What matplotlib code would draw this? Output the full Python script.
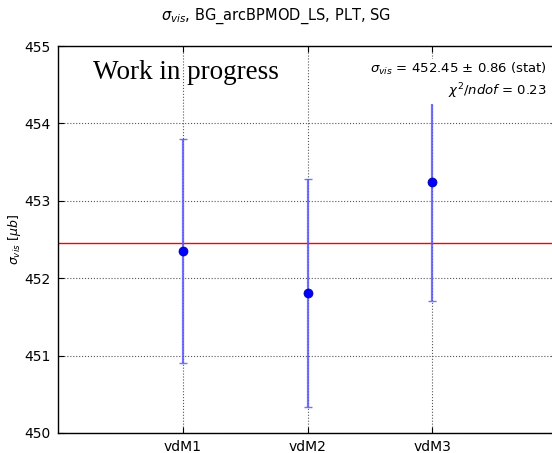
import matplotlib
matplotlib.use("Agg")
import matplotlib.pyplot as plt

# Per-scan visible cross sections and their statistical errors
scans = ["vdM1", "vdM2", "vdM3"]
sigma_vis = [452.35, 451.81, 453.24]
sigma_err = [1.45, 1.47, 1.53]

# Weighted average and fit quality
avg_value = 452.45
avg_err = 0.86
chi2_ndof = 0.23

fig = plt.figure(figsize=(5.52, 4.53), dpi=100)
# axes run slightly past the right edge of the canvas
ax = fig.add_axes([58 / 552, 20 / 453, 499 / 552, 387 / 453])

x = list(range(1, len(scans) + 1))
ax.errorbar(x, sigma_vis, yerr=sigma_err, fmt="none", ecolor=(0.35, 0.35, 1.0),
            elinewidth=1.6, capsize=3, capthick=1.0, alpha=0.85, zorder=3)
ax.plot(x, sigma_vis, "o", color="blue", markersize=6.5,
        markeredgecolor="#000088", markeredgewidth=0.5, zorder=4)
ax.axhline(avg_value, color="red", linewidth=1.0, zorder=2)

ax.set_xlim(0, 4)
ax.set_ylim(450, 455)
ax.set_xticks(x)
ax.set_xticklabels(scans, fontsize=10)
ax.set_yticks([450, 451, 452, 453, 454, 455])
ax.tick_params(axis="both", direction="in", labelsize=10, length=4,
               top=True, right=True, pad=5)
ax.grid(True, linestyle=":", color="#555555", linewidth=0.8)
for s in ax.spines.values():
    s.set_linewidth(1.0)

ax.set_ylabel(r"$\sigma_{vis}$ [$\mu b$]", fontsize=9, labelpad=1)
fig.suptitle(r"$\sigma_{vis}$, BG_arcBPMOD_LS, PLT, SG", fontsize=10.5, y=0.985)

ax.text(0.0705, 0.965, "Work in progress", transform=ax.transAxes,
        fontsize=19.5, family="Liberation Serif", va="top", ha="left")
ax.text(0.98, 0.962,
        r"$\sigma_{vis}$ = %.2f $\pm$ %.2f (stat)" % (avg_value, avg_err) + "\n"
        + r"$\chi^2/ndof$ = %.2f" % chi2_ndof,
        transform=ax.transAxes, fontsize=9.5, va="top", ha="right",
        multialignment="right", linespacing=1.3, zorder=6,
        bbox=dict(facecolor="white", edgecolor="none", pad=2.5))

fig.savefig("out.png", dpi=100)
